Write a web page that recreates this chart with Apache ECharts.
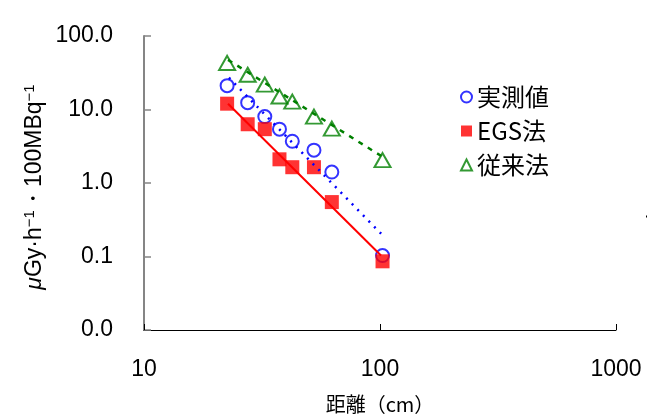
<!DOCTYPE html>
<html>
<head>
<meta charset="utf-8">
<script src="https://cdn.jsdelivr.net/npm/echarts@6/dist/echarts.min.js"></script>
<style>
  html, body { margin: 0; padding: 0; background: #fff; }
  #chart { width: 647px; height: 419px; }
</style>
</head>
<body>
<div id="chart"></div>
<script>
// Distance from source (cm)
const distances = [22.5, 27.5, 32.5, 37.5, 42.5, 52.5, 62.5, 102.5];
// Dose rate per 100 MBq (μGy·h⁻¹)
const measured = [21.1, 12.4, 8.0, 5.4, 3.7, 2.8, 1.41, 0.103];
const egs = [12.0, 6.3, 5.4, 2.1, 1.64, 1.64, 0.55, 0.086];
const conventional = [43.0, 29.7, 21.8, 15.0, 12.8, 8.0, 5.5, 2.05];
// Trend lines: [distance, dose] end points
const measuredTrend = [[22.9, 27.1], [104, 0.186]];
const egsTrend = [[22.7, 12.0], [101, 0.103]];
const conventionalTrend = [[22.7, 47.4], [103, 2.25]];
// Axis ranges (log scale)
const xTicks = [10, 100, 1000];
const yTicks = [0.01, 0.1, 1, 10, 100];

const seriesNames = ['実測値', 'EGS法', '従来法'];
const latin = '"Liberation Sans", Arial, sans-serif';
const cjk = '"Noto Sans CJK JP", sans-serif';

const pairs = (xs, ys) => xs.map((x, i) => [x, ys[i]]);

const yNameRich = {
  mu: { fontSize: 23, fontFamily: latin, fontStyle: 'italic', color: '#000', lineHeight: 25 },
  m: { fontSize: 23, fontFamily: latin, color: '#000', lineHeight: 25 },
  s: { fontSize: 15, fontFamily: latin, color: '#000', lineHeight: 14, verticalAlign: 'top' }
};
const yNameText = '{mu|μ}{m|Gy·h}{s|−1}{m|・100MBq}{s|−1}';

const chart = echarts.init(document.getElementById('chart'), null, { renderer: 'canvas' });
chart.setOption({
  animation: false,
  backgroundColor: '#fff',
  grid: { left: 144, right: 31, top: 36, bottom: 84, containLabel: false },
  legend: {
    orient: 'vertical',
    left: 455,
    top: 80,
    itemWidth: 11,
    itemHeight: 11,
    itemGap: 10,
    data: seriesNames,
    textStyle: { fontSize: 24, lineHeight: 24, fontFamily: cjk, color: '#000' }
  },
  xAxis: {
    type: 'log',
    logBase: 10,
    min: xTicks[0],
    max: xTicks[xTicks.length - 1],
    name: '距離（cm）',
    nameLocation: 'middle',
    nameGap: 64,
    nameTextStyle: { fontSize: 20, fontFamily: cjk, color: '#000' },
    axisLine: { lineStyle: { color: '#000', width: 1 } },
    axisTick: { inside: true, length: 6, lineStyle: { color: '#000', width: 1 } },
    minorTick: { show: false },
    splitLine: { show: false },
    axisLabel: {
      margin: 28,
      fontSize: 23,
      fontFamily: latin,
      color: '#000',
      formatter: v => String(Math.round(v))
    }
  },
  yAxis: {
    type: 'log',
    logBase: 10,
    min: yTicks[0],
    max: yTicks[yTicks.length - 1],
    axisLine: { show: true, lineStyle: { color: '#858585', width: 2 } },
    axisTick: { show: true, inside: true, length: 7, lineStyle: { color: '#858585', width: 1.5 } },
    minorTick: { show: false },
    splitLine: { show: false },
    axisLabel: {
      margin: 31,
      fontSize: 23,
      fontFamily: latin,
      color: '#000',
      formatter: v => Number(v).toFixed(1)
    }
  },
  graphic: [
    {
      type: 'text',
      x: 35, y: 187,
      rotation: Math.PI / 2,
      style: { text: yNameText, rich: yNameRich, align: 'center', verticalAlign: 'middle' }
    },
    {
      type: 'text',
      x: 658, y: 166,
      rotation: Math.PI / 2,
      style: { text: yNameText, rich: yNameRich, align: 'center', verticalAlign: 'middle' }
    }
  ],
  series: [
    {
      name: seriesNames[0],
      type: 'scatter',
      symbol: 'circle',
      symbolSize: 13,
      itemStyle: { color: 'rgba(255,255,255,0)', borderColor: '#0000ff', borderWidth: 2 },
      data: pairs(distances, measured),
      z: 2
    },
    {
      name: seriesNames[1],
      type: 'scatter',
      symbol: 'rect',
      symbolSize: 14,
      itemStyle: { color: '#ff0000' },
      data: pairs(distances, egs),
      z: 3
    },
    {
      name: seriesNames[2],
      type: 'scatter',
      symbol: 'triangle',
      symbolSize: [16, 14],
      itemStyle: { color: 'rgba(255,255,255,0)', borderColor: '#008000', borderWidth: 2 },
      data: pairs(distances, conventional),
      z: 3
    },
    {
      type: 'line',
      symbol: 'none',
      silent: true,
      lineStyle: { color: '#ff0000', width: 2 },
      data: egsTrend,
      z: 4
    },
    {
      type: 'line',
      symbol: 'none',
      silent: true,
      lineStyle: { color: '#0000ff', width: 2.5, type: [2, 6] },
      data: measuredTrend,
      z: 4
    },
    {
      type: 'line',
      symbol: 'none',
      silent: true,
      lineStyle: { color: '#008000', width: 2.5, type: [5, 6] },
      data: conventionalTrend,
      z: 4
    }
  ]
});
</script>
</body>
</html>
